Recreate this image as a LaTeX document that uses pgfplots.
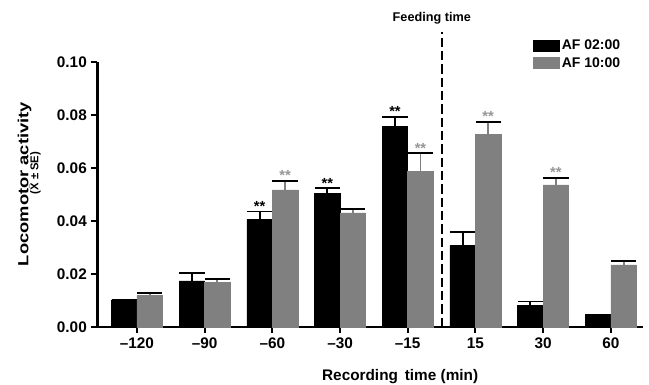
\documentclass[border=0pt]{standalone}
\usepackage{pgfplots}
\pgfplotsset{compat=1.18}
\usepackage{fontspec}
\setmainfont{Liberation Sans}
\usepackage{graphicx}
\definecolor{bargray}{RGB}{128,128,128}
\definecolor{astgray}{RGB}{150,150,150}
\begin{document}
\begin{tikzpicture}
\begin{axis}[
  scale only axis, width=409pt, height=198.75pt,
  xmin=-0.583, xmax=7.473, ymin=0, ymax=0.1,
  axis x line=bottom, axis y line=left,
  axis line style={line width=1.6pt, -},
  xtick={0,1,2,3,4,5,6,7},
  xticklabels={\textendash120,\textendash90,\textendash60,\textendash30,\textendash15,15,30,60},
  ytick={0,0.02,0.04,0.06,0.08,0.1},
  yticklabels={0.00,0.02,0.04,0.06,0.08,0.10},
  tick align=outside, major tick length=4.5pt,
  tick style={line width=1.5pt, black},
  ticklabel style={font=\fontsize{11.5}{12}\selectfont\bfseries},
  clip=false,
  legend style={draw=none, fill=none, at={(axis description cs:0.798,1.094)}, anchor=north west,
    inner sep=0pt, outer sep=0pt, font=\fontsize{10.5}{11}\selectfont\bfseries, row sep=0.5pt,
    /tikz/every even column/.append style={column sep=2pt}},
  legend cell align=left,
  error bars/y dir=plus, error bars/y explicit,
  error bars/error bar style={line width=1.4pt},
  error bars/error mark options={rotate=90, mark size=9.5pt, line width=1.4pt},
]
\addplot[ybar, bar width=0.377, bar shift=0pt, fill=black, draw=black,
  legend image code/.code={\fill[black] (0pt,-4pt) rectangle (19.5pt,4.25pt);}]
  coordinates {(-0.1885,0.0102) +- (0,0.0002) (0.8115,0.0174) +- (0,0.0029) (1.8115,0.0406) +- (0,0.0030)
               (2.8115,0.0504) +- (0,0.0019) (3.8115,0.0756) +- (0,0.0038) (4.8115,0.0307) +- (0,0.0050)
               (5.8115,0.0083) +- (0,0.0013) (6.8115,0.0039) +- (0,0.0006)};
\addlegendentry{AF 02:00}
\addplot[ybar, bar width=0.377, bar shift=0pt, fill=bargray, draw=bargray,
  legend image code/.code={\fill[bargray] (0pt,-4pt) rectangle (19.5pt,4.25pt);}]
  coordinates {(0.1885,0.0118) +- (0,0.0009) (1.1885,0.0169) +- (0,0.0012) (2.1885,0.0517) +- (0,0.0035)
               (3.1885,0.0431) +- (0,0.0013) (4.1885,0.0586) +- (0,0.0069) (5.1885,0.0728) +- (0,0.0047)
               (6.1885,0.0536) +- (0,0.0027) (7.1885,0.0234) +- (0,0.0016)};
\addlegendentry{AF 10:00}
% asterisks
\addplot[forget plot, draw=none, mark=none, nodes near coords, point meta=explicit symbolic,
  every node near coord/.append style={font=\fontsize{11}{11}\selectfont\bfseries, text=black, inner sep=0pt, anchor=south}]
  coordinates {(1.8115,0.0436) [**] (2.8115,0.0523) [**] (3.8115,0.0794) [**]};
\addplot[forget plot, draw=none, mark=none, nodes near coords, point meta=explicit symbolic,
  every node near coord/.append style={font=\fontsize{11}{11}\selectfont\bfseries, text=astgray, inner sep=0pt, anchor=south}]
  coordinates {(2.1885,0.0552) [**] (4.1885,0.0655) [**] (5.1885,0.0775) [**] (6.1885,0.0563) [**]};
% feeding time line
\addplot[forget plot, black, line width=1.5pt, dash pattern=on 7pt off 3pt] coordinates {(4.5,0) (4.5,0.1113)};
\node[font=\fontsize{9.5}{10}\selectfont\bfseries] at (axis description cs:0.613,1.166) {Feeding time};
\node[rotate=90, font=\fontsize{11}{12}\selectfont\bfseries] at (axis description cs:-0.1338,0.5396) {\scalebox{1.25}[1]{Locomotor activity}};
\node[rotate=90, font=\fontsize{8.5}{9}\selectfont\bfseries] at (axis description cs:-0.1146,0.581) {(\ensuremath{\bar{\mbox{X}}} ± SE)};
\node[font=\fontsize{11.5}{12}\selectfont\bfseries] at (axis description cs:0.555,-0.1887) {Recording\hspace{0.45em}time (min)};
\end{axis}
\pgfresetboundingbox
\path ([xshift=-73.125pt,yshift=-43.5pt]current axis.south west) rectangle ++(486.75pt,288.75pt);
\end{tikzpicture}
\end{document}
